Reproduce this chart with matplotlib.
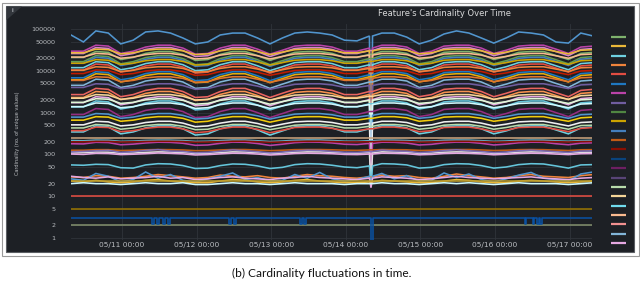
import matplotlib
matplotlib.use("Agg")
import matplotlib.pyplot as plt
from matplotlib.patches import Rectangle, Polygon

# ---------------- data ----------------
# hours since 05/10 07:36 (one sample every 4 h, plus the short outage at ~05/14 08:00)
hours = [0, 4, 8, 12, 16, 20, 24, 28, 32, 36, 40, 44, 48, 52, 56, 60, 64, 68, 72, 76, 80, 84, 88, 92, 96,
         96.5, 97, 100, 104, 108, 112, 116, 120, 124, 128, 132, 136, 140, 144, 148, 152, 156, 160, 164, 168]
start_offset_h = 7.6  # data starts 05/10 07:36
tick_labels = ["05/11 00:00", "05/12 00:00", "05/13 00:00", "05/14 00:00",
               "05/15 00:00", "05/16 00:00", "05/17 00:00"]
y_ticks = [1, 2, 5, 10, 20, 50, 100, 200, 500, 1000, 2000, 5000, 10000, 20000, 50000, 100000]

top = [72000, 49000, 90000, 80000, 44000, 54000, 85000, 90000, 80000, 61000, 44000, 49000, 72000, 80000, 80000, 61000,
       44000, 61000, 80000, 85000, 80000, 72000, 54000, 52000, 68000, 18, 68000, 80000, 80000, 64000, 44000, 54000,
       76000, 90000, 80000, 61000, 46000, 61000, 85000, 80000, 72000, 49000, 46000, 80000, 68000]
u1 = [29500, 29500, 41000, 39000, 26000, 29500, 37000, 41000, 41000, 35000, 25000, 26000, 35000, 41000, 41000, 33000,
      25000, 31000, 39000, 41000, 41000, 37000, 29500, 29500, 35000, 30, 35000, 41000, 41000, 37000, 26000, 29500,
      39000, 41000, 41000, 35000, 26000, 31000, 39000, 41000, 41000, 33000, 26000, 37000, 39000]
u2 = [25900, 25900, 36000, 34200, 23000, 25900, 32400, 36000, 36000, 30600, 22000, 23000, 30600, 36000, 36000, 28800,
      22000, 27400, 34200, 36000, 36000, 32400, 25900, 25900, 30600, 30600, 30600, 36000, 36000, 32400, 23000, 25900,
      34200, 36000, 36000, 30600, 23000, 27400, 34200, 36000, 36000, 28800, 23000, 32400, 34200]
u3 = [27000, 27000, 33000, 32000, 25400, 27000, 31000, 33000, 33000, 30000, 24400, 25400, 30000, 33000, 33000, 29000,
      24400, 28000, 32000, 33000, 33000, 31000, 27000, 27000, 30000, 200, 30000, 33000, 33000, 31000, 25400, 27000,
      32000, 33000, 33000, 30000, 25400, 28000, 32000, 33000, 33000, 29000, 25400, 31000, 32000]
u4 = [20900, 20900, 29000, 27600, 18600, 20900, 26100, 29000, 29000, 24700, 17700, 18600, 24700, 29000, 29000, 23200,
      17700, 22000, 27600, 29000, 29000, 26100, 20900, 20900, 24700, 24700, 24700, 29000, 29000, 26100, 18600, 20900,
      27600, 29000, 29000, 24700, 18600, 22000, 27600, 29000, 29000, 23200, 18600, 26100, 27600]
u5 = [21300, 21300, 26000, 25200, 20000, 21300, 24400, 26000, 26000, 23700, 19200, 20000, 23700, 26000, 26000, 22900,
      19200, 22100, 25200, 26000, 26000, 24400, 21300, 21300, 23700, 25, 23700, 26000, 26000, 24400, 20000, 21300,
      25200, 26000, 26000, 23700, 20000, 22100, 25200, 26000, 26000, 22900, 20000, 24400, 25200]
u6 = [16600, 16600, 23000, 21900, 14700, 16600, 20700, 23000, 23000, 19600, 14000, 14700, 19600, 23000, 23000, 18400,
      14000, 17500, 21900, 23000, 23000, 20700, 16600, 16600, 19600, 19600, 19600, 23000, 23000, 20700, 14700, 16600,
      21900, 23000, 23000, 19600, 14700, 17500, 21900, 23000, 23000, 18400, 14700, 20700, 21900]
u7 = [15100, 15100, 21000, 20000, 13400, 15100, 18900, 21000, 21000, 17900, 12800, 13400, 17900, 21000, 21000, 16800,
      12800, 16000, 20000, 21000, 21000, 18900, 15100, 15100, 17900, 60, 17900, 21000, 21000, 18900, 13400, 15100,
      20000, 21000, 21000, 17900, 13400, 16000, 20000, 21000, 21000, 16800, 13400, 18900, 20000]
u8 = [15200, 15200, 18500, 17900, 14200, 15200, 17400, 18500, 18500, 16800, 13700, 14200, 16800, 18500, 18500, 16300,
      13700, 15700, 17900, 18500, 18500, 17400, 15200, 15200, 16800, 16800, 16800, 18500, 18500, 17400, 14200, 15200,
      17900, 18500, 18500, 16800, 14200, 15700, 17900, 18500, 18500, 16300, 14200, 17400, 17900]
u9 = [11900, 11900, 16500, 15700, 10600, 11900, 14900, 16500, 16500, 14000, 10100, 10600, 14000, 16500, 16500, 13200,
      10100, 12500, 15700, 16500, 16500, 14900, 11900, 11900, 14000, 20, 14000, 16500, 16500, 14900, 10600, 11900,
      15700, 16500, 16500, 14000, 10600, 12500, 15700, 16500, 16500, 13200, 10600, 14900, 15700]
u10 = [10400, 10400, 14500, 13800, 9300, 10400, 13100, 14500, 14500, 12300, 8800, 9300, 12300, 14500, 14500, 11600,
       8800, 11000, 13800, 14500, 14500, 13100, 10400, 10400, 12300, 12300, 12300, 14500, 14500, 13100, 9300, 10400,
       13800, 14500, 14500, 12300, 9300, 11000, 13800, 14500, 14500, 11600, 9300, 13100, 13800]
u11 = [10300, 10300, 12500, 12100, 9600, 10300, 11800, 12500, 12500, 11400, 9300, 9600, 11400, 12500, 12500, 11000,
       9300, 10600, 12100, 12500, 12500, 11800, 10300, 10300, 11400, 300, 11400, 12500, 12500, 11800, 9600, 10300,
       12100, 12500, 12500, 11400, 9600, 10600, 12100, 12500, 12500, 11000, 9600, 11800, 12100]
u12 = [8600, 8600, 10500, 10200, 8100, 8600, 9900, 10500, 10500, 9600, 7800, 8100, 9600, 10500, 10500, 9200,
       7800, 8900, 10200, 10500, 10500, 9900, 8600, 8600, 9600, 9600, 9600, 10500, 10500, 9900, 8100, 8600,
       10200, 10500, 10500, 9600, 8100, 8900, 10200, 10500, 10500, 9200, 8100, 9900, 10200]
u13 = [6800, 6800, 9500, 9000, 6100, 6800, 8600, 9500, 9500, 8100, 5800, 6100, 8100, 9500, 9500, 7600,
       5800, 7200, 9000, 9500, 9500, 8600, 6800, 6800, 8100, 40, 8100, 9500, 9500, 8600, 6100, 6800,
       9000, 9500, 9500, 8100, 6100, 7200, 9000, 9500, 9500, 7600, 6100, 8600, 9000]
u14 = [6100, 6100, 8500, 8100, 5400, 6100, 7700, 8500, 8500, 7200, 5200, 5400, 7200, 8500, 8500, 6800,
       5200, 6500, 8100, 8500, 8500, 7700, 6100, 6100, 7200, 7200, 7200, 8500, 8500, 7700, 5400, 6100,
       8100, 8500, 8500, 7200, 5400, 6500, 8100, 8500, 8500, 6800, 5400, 7700, 8100]
u15 = [5900, 5900, 7200, 7000, 5500, 5900, 6800, 7200, 7200, 6600, 5300, 5500, 6600, 7200, 7200, 6300,
       5300, 6100, 7000, 7200, 7200, 6800, 5900, 5900, 6600, 22, 6600, 7200, 7200, 6800, 5500, 5900,
       7000, 7200, 7200, 6600, 5500, 6100, 7000, 7200, 7200, 6300, 5500, 6800, 7000]
u16 = [4500, 4500, 6300, 6000, 4000, 4500, 5700, 6300, 6300, 5400, 3800, 4000, 5400, 6300, 6300, 5000,
       3800, 4800, 6000, 6300, 6300, 5700, 4500, 4500, 5400, 5400, 5400, 6300, 6300, 5700, 4000, 4500,
       6000, 6300, 6300, 5400, 4000, 4800, 6000, 6300, 6300, 5000, 4000, 5700, 6000]
u17 = [4000, 4000, 4900, 4750, 3750, 4000, 4600, 4900, 4900, 4450, 3600, 3750, 4450, 4900, 4900, 4300,
       3600, 4150, 4750, 4900, 4900, 4600, 4000, 4000, 4450, 100, 4450, 4900, 4900, 4600, 3750, 4000,
       4750, 4900, 4900, 4450, 3750, 4150, 4750, 4900, 4900, 4300, 3750, 4600, 4750]
u18 = [2700, 2700, 3800, 3600, 2400, 2700, 3400, 3800, 3800, 3200, 2300, 2400, 3200, 3800, 3800, 3000,
       2300, 2900, 3600, 3800, 3800, 3400, 2700, 2700, 3200, 3200, 3200, 3800, 3800, 3400, 2400, 2700,
       3600, 3800, 3800, 3200, 2400, 2900, 3600, 3800, 3800, 3000, 2400, 3400, 3600]
u19 = [2300, 2300, 3200, 3040, 2050, 2300, 2880, 3200, 3200, 2720, 1950, 2050, 2720, 3200, 3200, 2560,
       1950, 2430, 3040, 3200, 3200, 2880, 2300, 2300, 2720, 18, 2720, 3200, 3200, 2880, 2050, 2300,
       3040, 3200, 3200, 2720, 2050, 2430, 3040, 3200, 3200, 2560, 2050, 2880, 3040]
u20 = [2210, 2210, 2700, 2620, 2080, 2210, 2540, 2700, 2700, 2460, 2000, 2080, 2460, 2700, 2700, 2380,
       2000, 2300, 2620, 2700, 2700, 2540, 2210, 2210, 2460, 2460, 2460, 2700, 2700, 2540, 2080, 2210,
       2620, 2700, 2700, 2460, 2080, 2300, 2620, 2700, 2700, 2380, 2080, 2540, 2620]
u21 = [1730, 1730, 2400, 2280, 1540, 1730, 2160, 2400, 2400, 2040, 1460, 1540, 2040, 2400, 2400, 1920,
       1460, 1820, 2280, 2400, 2400, 2160, 1730, 1730, 2040, 50, 2040, 2400, 2400, 2160, 1540, 1730,
       2280, 2400, 2400, 2040, 1540, 1820, 2280, 2400, 2400, 1920, 1540, 2160, 2280]
u22 = [1760, 1760, 2150, 2090, 1660, 1760, 2020, 2150, 2150, 1960, 1590, 1660, 1960, 2150, 2150, 1890,
       1590, 1830, 2090, 2150, 2150, 2020, 1760, 1760, 1960, 500, 1960, 2150, 2150, 2020, 1660, 1760,
       2090, 2150, 2150, 1960, 1660, 1830, 2090, 2150, 2150, 1890, 1660, 2020, 2090]
u23 = [1370, 1370, 1900, 1800, 1220, 1370, 1710, 1900, 1900, 1620, 1160, 1220, 1620, 1900, 1900, 1520,
       1160, 1440, 1800, 1900, 1900, 1710, 1370, 1370, 1620, 1620, 1620, 1900, 1900, 1710, 1220, 1370,
       1800, 1900, 1900, 1620, 1220, 1440, 1800, 1900, 1900, 1520, 1220, 1710, 1800]
u24 = [1390, 1390, 1700, 1650, 1310, 1390, 1600, 1700, 1700, 1550, 1260, 1310, 1550, 1700, 1700, 1500,
       1260, 1450, 1650, 1700, 1700, 1600, 1390, 1390, 1550, 30, 1550, 1700, 1700, 1600, 1310, 1390,
       1650, 1700, 1700, 1550, 1310, 1450, 1650, 1700, 1700, 1500, 1310, 1600, 1650]
m1 = [900, 900, 1250, 1190, 800, 900, 1130, 1250, 1250, 1060, 760, 800, 1060, 1250, 1250, 1000,
      760, 950, 1190, 1250, 1250, 1130, 900, 900, 1060, 1060, 1060, 1250, 1250, 1130, 800, 900,
      1190, 1250, 1250, 1060, 800, 950, 1190, 1250, 1250, 1000, 800, 1130, 1190]
m2 = [780, 780, 950, 920, 730, 780, 890, 950, 950, 860, 700, 730, 860, 950, 950, 840,
      700, 810, 920, 950, 950, 890, 780, 780, 860, 40, 860, 950, 950, 890, 730, 780,
      920, 950, 950, 860, 730, 810, 920, 950, 950, 840, 730, 890, 920]
m3 = [660, 660, 800, 780, 620, 660, 750, 800, 800, 730, 590, 620, 730, 800, 800, 700,
      590, 680, 780, 800, 800, 750, 660, 660, 730, 730, 730, 800, 800, 750, 620, 660,
      780, 800, 800, 730, 620, 680, 780, 800, 800, 700, 620, 750, 780]
m4 = [510, 510, 620, 600, 480, 510, 580, 620, 620, 560, 460, 480, 560, 620, 620, 550,
      460, 530, 600, 620, 620, 580, 510, 510, 560, 25, 560, 620, 620, 580, 480, 510,
      600, 620, 620, 560, 480, 530, 600, 620, 620, 550, 480, 580, 600]
m5 = [430, 430, 520, 500, 400, 430, 490, 520, 520, 470, 390, 400, 470, 520, 520, 460,
      390, 440, 500, 520, 520, 490, 430, 430, 470, 470, 470, 520, 520, 490, 400, 430,
      500, 520, 520, 470, 400, 440, 500, 520, 520, 460, 400, 490, 500]
m6 = [345, 345, 480, 455, 310, 345, 430, 480, 480, 410, 290, 310, 410, 480, 480, 385,
      290, 365, 455, 480, 480, 430, 345, 345, 410, 410, 410, 480, 480, 430, 310, 345,
      455, 480, 480, 410, 310, 365, 455, 480, 480, 385, 310, 430, 455]
m7 = [370, 370, 450, 440, 350, 370, 420, 450, 450, 410, 330, 350, 410, 450, 450, 400,
      330, 380, 440, 450, 450, 420, 370, 370, 410, 410, 410, 450, 450, 420, 350, 370,
      440, 450, 450, 410, 350, 380, 440, 450, 450, 400, 350, 420, 440]
l2 = [215, 212, 220, 218, 205, 208, 216, 220, 219, 214, 204, 206, 214, 221, 220, 212,
      203, 209, 218, 222, 221, 215, 207, 206, 213, 213, 213, 220, 219, 215, 205, 208,
      218, 221, 220, 213, 205, 209, 217, 220, 219, 211, 206, 214, 217]
l3 = [180, 178, 195, 192, 170, 176, 188, 196, 194, 185, 165, 168, 184, 197, 195, 182,
      164, 175, 191, 198, 196, 188, 175, 172, 183, 30, 183, 196, 195, 187, 168, 174,
      190, 197, 196, 184, 168, 176, 190, 196, 195, 180, 170, 186, 190]
l4 = [200, 200, 205, 205, 198, 200, 204, 206, 206, 203, 196, 198, 202, 206, 207, 201,
      195, 199, 204, 206, 206, 203, 199, 199, 201, 201, 201, 206, 205, 203, 197, 199,
      204, 206, 206, 202, 197, 199, 204, 206, 205, 201, 198, 203, 204]
l5 = [126, 126, 130, 130, 124, 126, 129, 131, 130, 128, 123, 124, 128, 131, 131, 127,
      123, 126, 130, 131, 131, 129, 126, 125, 128, 128, 128, 131, 130, 129, 124, 126,
      130, 131, 131, 128, 124, 126, 130, 131, 130, 127, 124, 129, 130]
l6 = [108, 110, 114, 113, 106, 108, 112, 115, 114, 111, 105, 106, 111, 115, 114, 110,
      104, 108, 113, 115, 115, 112, 108, 107, 110, 20, 110, 115, 114, 112, 106, 108,
      113, 115, 114, 111, 106, 108, 113, 115, 114, 110, 106, 112, 113]
l7 = [102, 100, 106, 105, 99, 101, 104, 108, 106, 103, 97, 99, 103, 107, 106, 102,
      97, 100, 105, 107, 106, 104, 100, 99, 102, 102, 102, 107, 106, 104, 98, 100,
      105, 107, 106, 103, 98, 101, 105, 107, 106, 102, 99, 104, 105]
l8 = [115, 118, 122, 125, 112, 116, 124, 130, 120, 118, 110, 112, 119, 128, 122, 116,
      109, 114, 121, 126, 124, 118, 113, 112, 117, 117, 117, 127, 121, 119, 111, 115,
      123, 129, 122, 117, 111, 114, 122, 126, 121, 116, 112, 120, 122]
c50 = [56, 55, 58, 57, 48, 47, 56, 60, 59, 54, 46, 47, 54, 59, 58, 53,
       46, 49, 57, 60, 59, 55, 50, 48, 53, 18, 53, 60, 59, 56, 47, 49,
       57, 60, 59, 54, 47, 50, 57, 60, 59, 53, 47, 56, 57]
n1 = [29, 28, 31, 30, 27, 28, 30, 33, 31, 29, 27, 28, 32, 30, 29, 31, 28, 27, 30, 33, 31, 30, 28, 27, 29,
      29, 29, 32, 30, 31, 28, 27, 30, 34, 31, 29, 27, 28, 31, 33, 30, 29, 28, 31, 33]
n2 = [26, 24, 35, 30, 22, 25, 38, 27, 33, 24, 22, 26, 30, 36, 25, 28, 23, 24, 33, 27, 37, 26, 23, 25, 30,
      20, 30, 35, 26, 31, 23, 24, 36, 28, 34, 25, 22, 26, 32, 37, 27, 25, 23, 34, 38]
n3 = [30, 28, 27, 29, 26, 27, 28, 30, 27, 28, 25, 26, 28, 29, 27, 26, 25, 27, 28, 30, 28, 27, 26, 25, 27,
      16, 27, 29, 28, 27, 25, 26, 28, 30, 28, 27, 26, 27, 28, 29, 27, 26, 25, 27, 28]
n4 = [23, 22, 24, 22, 21, 22, 24, 25, 23, 22, 21, 21, 23, 25, 24, 22, 21, 22, 24, 25, 23, 22, 21, 21, 22,
      22, 22, 24, 23, 22, 21, 21, 23, 25, 24, 22, 21, 21, 23, 24, 23, 22, 21, 22, 23]
n5 = [20, 21, 20, 20, 19, 20, 21, 20, 20, 21, 19, 19, 20, 21, 20, 20, 19, 20, 21, 20, 20, 20, 19, 20, 20,
      20, 20, 21, 20, 20, 19, 20, 21, 20, 21, 20, 19, 20, 21, 20, 20, 20, 19, 20, 21]

# flat series
const_values = [250, 23, 10, 5, 2]
const_colors = ["#C8A27C", "#B89B2E", "#E24D42", "#967302", "#7F8C6B"]

# 3-valued feature with occasional drops
blue3_hours = [0, 26.2, 26.8, 27.6, 28.2, 29.6, 30.2, 31.2, 31.8, 50.8, 51.4, 52.4, 53.0, 73.6, 74.2, 75.0,
               75.6, 96.4, 97.0, 145.9, 146.5, 148.5, 149.1, 149.8, 150.4, 151.0, 151.6, 168]
blue3_vals = [3, 2.2, 3, 2.2, 3, 2.2, 3, 2.2, 3, 2.2, 3, 2.2, 3, 2.2, 3, 2.2,
              3, 0.8, 3, 2.2, 3, 2.2, 3, 2.2, 3, 2.2, 3, 3]

series = [
    (top, "#5195CE"), (u1, "#BA43A9"), (u2, "#D683CE"), (u3, "#EAB839"), (u4, "#7EB26D"),
    (u5, "#F9BA8F"), (u6, "#629E51"), (u7, "#447EBC"), (u8, "#CCA300"), (u9, "#6ED0E0"),
    (u10, "#E24D42"), (u11, "#EF843C"), (u12, "#BF1B00"), (u13, "#1F78C1"), (u14, "#E5AC0E"),
    (u15, "#E0752D"), (u16, "#82B5D8"), (u17, "#705DA0"), (u18, "#EA6460"), (u19, "#F9934E"),
    (u20, "#F4D598"), (u21, "#E5A8E2"), (u22, "#E0F9D7"), (u23, "#65C5DB"), (u24, "#CFFAFF"),
    (m1, "#962D82"), (m2, "#5195CE"), (m3, "#F2CC0C"), (m4, "#F0F0F0"), (m5, "#B7DBAB"),
    (m6, "#6ED0E0"), (m7, "#E24D42"),
    (l2, "#64B0C8"), (l3, "#BA43A9"), (l4, "#890F02"), (l5, "#C15C17"), (l6, "#E0E0E0"),
    (l7, "#E5A8E2"), (l8, "#806EB7"), (c50, "#65C5DB"),
    (n1, "#EF843C"), (n2, "#5195CE"), (n3, "#E5A8E2"), (n4, "#EAB839"), (n5, "#CFFAFF"),
]

legend_colors = ["#7EB26D", "#EAB839", "#6ED0E0", "#EF843C", "#E24D42", "#1F78C1", "#BA43A9", "#705DA0",
                 "#508642", "#CCA300", "#447EBC", "#C15C17", "#890F02", "#0A437C", "#6D1F62", "#584477",
                 "#B7DBAB", "#F4D598", "#70DBED", "#F9BA8F", "#F29191", "#82B5D8", "#E5A8E2"]

# ---------------- figure ----------------
W, H = 640, 282
fig = plt.figure(figsize=(W / 100, H / 100), dpi=100)
fig.patch.set_facecolor("white")

def fx(px):
    return px / W

def fy(py):
    return 1 - py / H

# outer frame and dark panel (drawn behind the axes)
fig.add_artist(Rectangle((fx(1.5), fy(255.5)), fx(637), 253 / H, transform=fig.transFigure,
                         facecolor="none", edgecolor="#9a9a9a", lw=0.8, zorder=-20))
fig.add_artist(Rectangle((fx(6), fy(252)), fx(628), 246 / H, transform=fig.transFigure,
                         facecolor="#1d2025", edgecolor="#5a5d62", lw=0.8, zorder=-19))
fig.add_artist(Polygon([(fx(6.5), fy(6.5)), (fx(22), fy(6.5)), (fx(6.5), fy(20))], closed=True,
                       transform=fig.transFigure, facecolor="#32363c", edgecolor="none", zorder=-18))
fig.text(fx(12.5), fy(10), "i", color="#b0b3b8", fontsize=3.5, ha="center", va="center", weight="bold")

fig.text(fx(445), fy(13), "Feature's Cardinality Over Time", color="#d8d9da", fontsize=6,
         ha="center", va="center")
fig.text(fx(18), fy(133), "Cardinality (no. of unique values)", color="#b9bcc0", fontsize=3.6,
         rotation=90, ha="center", va="center", family=["Liberation Sans Narrow", "DejaVu Sans"])
fig.text(fx(322), fy(273), "(b) Cardinality fluctuations in time.", color="#111111", fontsize=8.6,
         ha="center", va="center", family=["Lato", "DejaVu Sans"])

# main axes
ax_left, ax_right, ax_top, ax_bottom = 71, 592, 24, 240
ax = fig.add_axes([fx(ax_left), fy(ax_bottom), fx(ax_right - ax_left), (ax_bottom - ax_top) / H])
ax.set_facecolor("none")
ax.set_yscale("log")
ax.set_ylim(0.896, 131800)
ax.set_xlim(0, 167.6)

for vals, col in series:
    ax.plot(hours, vals, color=col, lw=1.15, solid_joinstyle="miter")
for v, col in zip(const_values, const_colors):
    ax.hlines(v, hours[0], hours[-1], color=col, lw=1.15)
ax.plot(blue3_hours, blue3_vals, drawstyle="steps-post", color="#0A50A1", lw=1.15)

day_ticks = [24 - start_offset_h + 24 * k for k in range(len(tick_labels))]
ax.set_xticks(day_ticks)
ax.set_xticklabels(tick_labels)
ax.set_yticks(y_ticks)
ax.set_yticklabels([str(v) for v in y_ticks])
ax.yaxis.set_minor_locator(matplotlib.ticker.NullLocator())
ax.tick_params(axis="x", length=0, pad=1.5, labelsize=5.4, colors="#b9bcc0")
ax.tick_params(axis="y", length=0, pad=11, labelsize=4.6, colors="#b9bcc0")
ax.grid(True, color="#30343a", lw=0.6)
ax.set_axisbelow(True)
for s in ax.spines.values():
    s.set_visible(False)

# legend swatches (labels hidden in the original panel)
lg_top, lg_bottom = 37, 243
lax = fig.add_axes([fx(611), fy(lg_bottom + 2), fx(15), (lg_bottom - lg_top + 4) / H])
lax.set_axis_off()
lax.set_xlim(0, 1)
lax.set_ylim(len(legend_colors) - 1 + 0.2, -0.2)
for i, col in enumerate(legend_colors):
    lax.hlines(i, 0, 1, color=col, lw=1.6)

fig.savefig("out.png", dpi=100, facecolor="white")
